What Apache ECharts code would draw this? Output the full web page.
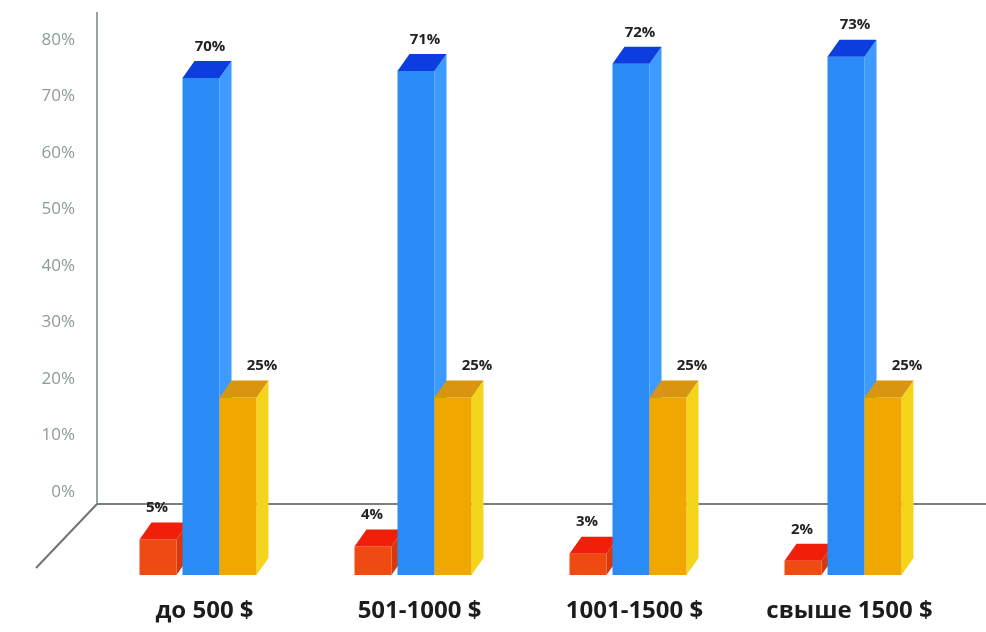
<!DOCTYPE html>
<html>
<head>
<meta charset="utf-8">
<script src="https://cdn.jsdelivr.net/npm/echarts@6/dist/echarts.min.js"></script>
<style>
  html, body { margin: 0; padding: 0; background: #ffffff; }
  #chart { width: 986px; height: 632px; }
</style>
</head>
<body>
<div id="chart"></div>
<script>
// Price bands and the three shares for each band
const categories = ['до 500 $', '501-1000 $', '1001-1500 $', 'свыше 1500 $'];
const shareRed = [5, 4, 3, 2];
const shareBlue = [70, 71, 72, 73];
const shareYellow = [25, 25, 25, 25];
const yTickLabels = ['0%', '10%', '20%', '30%', '40%', '50%', '60%', '70%', '80%'];

// Pseudo-3D box geometry
const FRONT_W = 37;
const DEPTH_X = 12;
const DEPTH_Y = 17;

function boxRenderer(offset, colors, labelShift) {
  return function (params, api) {
    const cat = api.value(0);
    const val = api.value(1);
    const top = api.coord([cat, val]);
    const base = api.coord([cat, 0]);
    const x0 = top[0] + offset;
    const yTop = top[1];
    const yBot = base[1];
    const x1 = x0 + FRONT_W;
    return {
      type: 'group',
      children: [
        {
          type: 'polygon',
          shape: { points: [[x1, yTop], [x1 + DEPTH_X, yTop - DEPTH_Y], [x1 + DEPTH_X, yBot - DEPTH_Y], [x1, yBot]] },
          style: { fill: colors.side }
        },
        {
          type: 'rect',
          shape: { x: x0, y: yTop, width: FRONT_W, height: yBot - yTop },
          style: { fill: colors.front }
        },
        {
          type: 'polygon',
          shape: { points: [[x0, yTop], [x0 + DEPTH_X, yTop - DEPTH_Y], [x1 + DEPTH_X, yTop - DEPTH_Y], [x1, yTop]] },
          style: { fill: colors.top }
        },
        {
          type: 'text',
          x: x0 + FRONT_W / 2 + DEPTH_X + labelShift,
          y: yTop - DEPTH_Y - 7,
          style: {
            text: val + '%',
            fill: '#222222',
            font: 'bold 15px "Open Sans", sans-serif',
            align: 'center',
            verticalAlign: 'bottom'
          }
        }
      ]
    };
  };
}

function toData(values) {
  return values.map((v, i) => [i, v]);
}

const chart = echarts.init(document.getElementById('chart'));

chart.setOption({
  backgroundColor: '#ffffff',
  animation: false,
  // frame: back wall edge, floor edge and the receding floor line
  graphic: [
    { type: 'line', shape: { x1: 97, y1: 12, x2: 97, y2: 504 }, style: { stroke: '#98a3a3', lineWidth: 2 } },
    { type: 'line', shape: { x1: 97, y1: 504, x2: 986, y2: 504 }, style: { stroke: '#7a7f80', lineWidth: 2 } },
    { type: 'line', shape: { x1: 97, y1: 504, x2: 36, y2: 568 }, style: { stroke: '#6f7575', lineWidth: 2 } }
  ],
  grid: [
    { left: 97, right: 29, top: 40, bottom: 140 },
    { left: 97, right: 29, top: 7, bottom: 57 }
  ],
  xAxis: [
    { gridIndex: 0, type: 'category', data: categories, show: false },
    {
      gridIndex: 1,
      type: 'category',
      data: categories,
      axisLine: { show: false },
      axisTick: { show: false },
      axisLabel: {
        interval: 0,
        margin: 24,
        color: '#1c1c1c',
        fontSize: 24,
        fontWeight: 'bold',
        fontFamily: '"Open Sans", sans-serif'
      }
    }
  ],
  yAxis: [
    {
      gridIndex: 0,
      type: 'value',
      min: 0,
      max: 80,
      interval: 10,
      axisLine: { show: false },
      axisTick: { show: false },
      splitLine: { show: false },
      axisLabel: {
        margin: 22,
        color: '#8c9a9a',
        fontSize: 17,
        fontFamily: '"Open Sans", sans-serif',
        formatter: (v) => yTickLabels[Math.round(v / 10)]
      }
    },
    {
      gridIndex: 1,
      type: 'value',
      min: 0,
      max: 80,
      show: false
    }
  ],
  series: [
    {
      name: 'red',
      type: 'custom',
      xAxisIndex: 1,
      yAxisIndex: 1,
      encode: { x: 0, y: 1 },
      data: toData(shareRed),
      renderItem: boxRenderer(-65, { front: '#ee4a12', side: '#d63a0c', top: '#f01f0a' }, -13)
    },
    {
      name: 'blue',
      type: 'custom',
      xAxisIndex: 1,
      yAxisIndex: 1,
      encode: { x: 0, y: 1 },
      data: toData(shareBlue),
      renderItem: boxRenderer(-22, { front: '#2b8bf6', side: '#3d9bff', top: '#0b3ddf' }, -3)
    },
    {
      name: 'yellow',
      type: 'custom',
      xAxisIndex: 1,
      yAxisIndex: 1,
      encode: { x: 0, y: 1 },
      data: toData(shareYellow),
      renderItem: boxRenderer(15, { front: '#f0a800', side: '#f5d41c', top: '#d9950f' }, 12)
    }
  ]
});
</script>
</body>
</html>
